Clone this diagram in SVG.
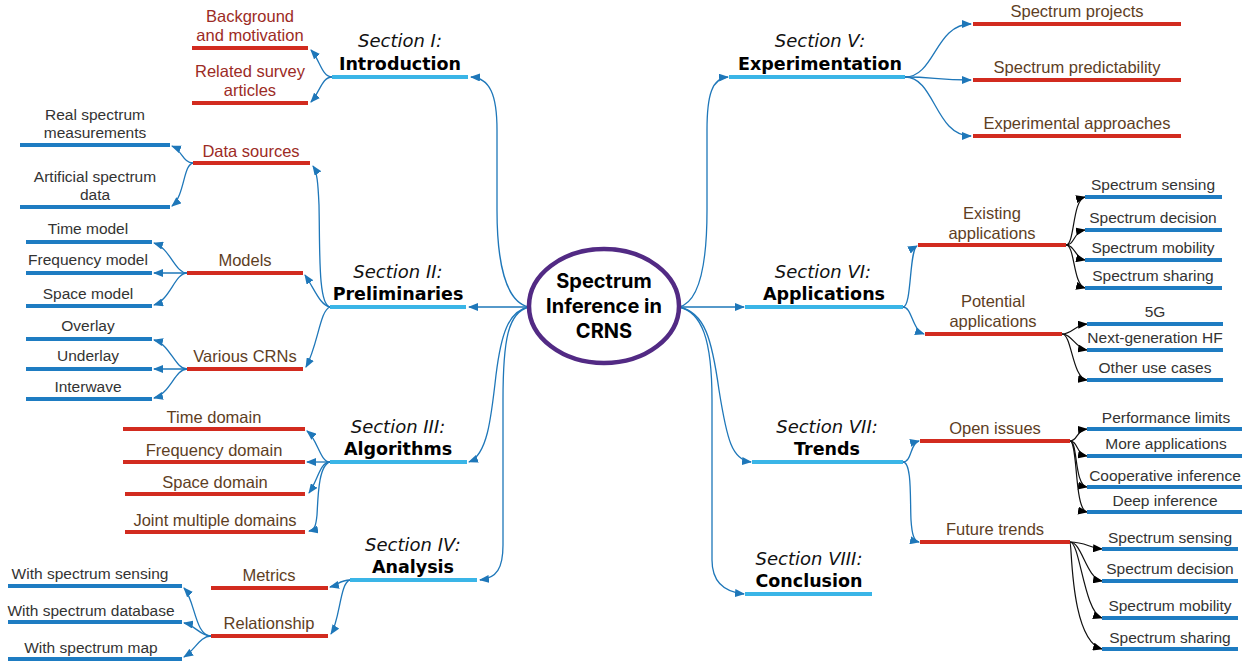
<svg xmlns="http://www.w3.org/2000/svg" width="1255" height="667" viewBox="0 0 1255 667">
  <style>
    .sec { stroke: #3AB5E7; stroke-width: 4; }
    .red { stroke: #D22B1F; stroke-width: 4; }
    .blu { stroke: #1E7CC2; stroke-width: 4; }
    .c { fill: none; stroke: #1E77B9; stroke-width: 1.3; marker-end: url(#ab); }
    .k { fill: none; stroke: #111; stroke-width: 1.2; marker-end: url(#ak); }
    text { text-anchor: middle; }
    .si { font-family: "DejaVu Sans", Verdana, sans-serif; font-style: italic; font-size: 18px; fill: #111; }
    .sb { font-family: "DejaVu Sans", Verdana, sans-serif; font-weight: bold; font-size: 17.5px; fill: #000; }
    .tr { font-family: "Liberation Sans", Arial, sans-serif; font-size: 16.5px; fill: #9C2B25; }
    .tn { font-family: "Liberation Sans", Arial, sans-serif; font-size: 16.5px; fill: #5E3E1F; }
    .tg { font-family: "Liberation Sans", Arial, sans-serif; font-size: 15.5px; fill: #333; }
    .ct { font-family: Inter, "Open Sans", sans-serif; font-weight: bold; font-size: 20px; fill: #000; }
  </style>
  <defs>
    <marker id="ab" markerUnits="userSpaceOnUse" markerWidth="10" markerHeight="8" refX="9" refY="4" orient="auto">
      <path d="M0,0 L10,4 L0,8 z" fill="#1E77B9"/>
    </marker>
    <marker id="ak" markerUnits="userSpaceOnUse" markerWidth="10" markerHeight="8" refX="9" refY="4" orient="auto">
      <path d="M0,0 L10,4 L0,8 z" fill="#000"/>
    </marker>
  </defs>
  <rect width="1255" height="667" fill="#fff"/>

  <g id="connectors">
    <!-- centre to sections -->
    <path class="c" d="M529,307 C505,302 497,260 497,210 L497,130 C497,95 490,78 471,77"/>
    <path class="c" d="M529,307 L469,307"/>
    <path class="c" d="M529,307 C508,311 501,335 496,375 C491,420 487,455 469,462"/>
    <path class="c" d="M529,307 C508,312 503,340 503,400 L503,545 C503,568 497,578 480,580"/>
    <path class="c" d="M679,307 C700,302 707,260 707,210 L707,130 C707,95 712,78 728,77"/>
    <path class="c" d="M679,307 L744,307"/>
    <path class="c" d="M679,307 C705,312 712,340 719,390 C727,440 732,460 751,462"/>
    <path class="c" d="M679,307 C702,312 712,340 712,400 L712,560 C712,582 724,592 744,594"/>

    <!-- Section I -->
    <path class="c" d="M332,77 C322,77 320,60 311,50"/>
    <path class="c" d="M332,77 C322,77 320,92 311,102"/>
    <!-- Section II -->
    <path class="c" d="M330,307 C318,305 320,250 319,205 C318,182 317,172 313,166"/>
    <path class="c" d="M330,307 C320,305 315,290 305,275"/>
    <path class="c" d="M330,307 C320,310 318,345 306,367"/>
    <path class="c" d="M193,163 C183,163 182,150 172,146"/>
    <path class="c" d="M193,163 C183,165 185,195 172,206"/>
    <path class="c" d="M187,273 C175,273 170,248 154,243"/>
    <path class="c" d="M187,273 L154,273"/>
    <path class="c" d="M187,273 C175,273 170,300 154,305"/>
    <path class="c" d="M187,369 C175,369 170,344 154,340"/>
    <path class="c" d="M187,369 L154,369"/>
    <path class="c" d="M187,369 C175,369 170,394 154,398"/>
    <!-- Section III -->
    <path class="c" d="M330,462 C320,462 318,440 307,431"/>
    <path class="c" d="M330,462 L307,462"/>
    <path class="c" d="M330,462 C320,462 318,480 309,493"/>
    <path class="c" d="M330,462 C318,465 318,500 317,515 C316,525 315,530 309,531"/>
    <!-- Section IV -->
    <path class="c" d="M350,580 C340,580 338,585 330,587"/>
    <path class="c" d="M350,580 C340,582 340,620 331,634"/>
    <path class="c" d="M211,636 C195,636 195,600 184,588"/>
    <path class="c" d="M211,636 C200,636 195,625 184,623"/>
    <path class="c" d="M211,636 C200,636 195,650 184,657"/>
    <!-- Section V -->
    <path class="c" d="M905,77 C935,77 935,24 971,24"/>
    <path class="c" d="M905,77 C935,77 935,80 971,80"/>
    <path class="c" d="M905,77 C935,77 935,136 971,136"/>
    <!-- Section VI -->
    <path class="c" d="M903,307 C912,307 909,250 917,246"/>
    <path class="c" d="M903,307 C912,307 912,330 924,334"/>
    <path class="k" d="M1066,245 C1075,245 1072,200 1085,197"/>
    <path class="k" d="M1066,245 C1075,245 1073,232 1085,230"/>
    <path class="k" d="M1066,245 C1075,245 1075,258 1085,260"/>
    <path class="k" d="M1066,245 C1075,245 1073,285 1085,288"/>
    <path class="k" d="M1062,334 C1072,334 1075,325 1087,324"/>
    <path class="k" d="M1062,334 C1072,334 1075,348 1087,350"/>
    <path class="k" d="M1062,334 C1072,334 1072,378 1087,380"/>
    <!-- Section VII -->
    <path class="c" d="M903,462 C912,462 910,443 919,441"/>
    <path class="c" d="M903,462 C912,462 910,500 911,520 C912,535 914,541 919,542"/>
    <path class="k" d="M1070,441 C1078,441 1076,430 1087,429"/>
    <path class="k" d="M1070,441 C1078,441 1076,454 1087,456"/>
    <path class="k" d="M1070,441 C1078,441 1074,485 1087,487"/>
    <path class="k" d="M1070,441 C1078,441 1074,510 1087,512"/>
    <path class="k" d="M1070,542 C1085,542 1090,548 1102,549"/>
    <path class="k" d="M1070,542 C1082,542 1086,578 1102,581"/>
    <path class="k" d="M1070,542 C1080,542 1084,612 1102,618"/>
    <path class="k" d="M1070,542 C1072,542 1070,640 1102,649"/>
  </g>

  <g id="center">
    <ellipse cx="604" cy="306" rx="75" ry="57" fill="#fff" stroke="#522A84" stroke-width="4.5"/>
    <text class="ct" x="604" y="288">Spectrum</text>
    <text class="ct" x="604" y="313">Inference in</text>
    <text class="ct" x="604" y="338">CRNS</text>
  </g>

  <!-- Section nodes -->
  <g id="sec1">
    <line class="sec" x1="332" y1="77" x2="468" y2="77"/>
    <text class="si" x="400" y="47">Section I:</text>
    <text class="sb" x="400" y="70">Introduction</text>
  </g>
  <g id="sec2">
    <line class="sec" x1="330" y1="307" x2="466" y2="307"/>
    <text class="si" x="398" y="278">Section II:</text>
    <text class="sb" x="398" y="300">Preliminaries</text>
  </g>
  <g id="sec3">
    <line class="sec" x1="330" y1="462" x2="467" y2="462"/>
    <text class="si" x="398" y="433">Section III:</text>
    <text class="sb" x="398" y="455">Algorithms</text>
  </g>
  <g id="sec4">
    <line class="sec" x1="350" y1="580" x2="477" y2="580"/>
    <text class="si" x="413" y="551">Section IV:</text>
    <text class="sb" x="413" y="573">Analysis</text>
  </g>
  <g id="sec5">
    <line class="sec" x1="729" y1="77" x2="905" y2="77"/>
    <text class="si" x="820" y="47">Section V:</text>
    <text class="sb" x="820" y="70">Experimentation</text>
  </g>
  <g id="sec6">
    <line class="sec" x1="745" y1="307" x2="903" y2="307"/>
    <text class="si" x="823" y="278">Section VI:</text>
    <text class="sb" x="824" y="300">Applications</text>
  </g>
  <g id="sec7">
    <line class="sec" x1="752" y1="462" x2="903" y2="462"/>
    <text class="si" x="827" y="433">Section VII:</text>
    <text class="sb" x="827" y="455">Trends</text>
  </g>
  <g id="sec8">
    <line class="sec" x1="745" y1="594" x2="872" y2="594"/>
    <text class="si" x="809" y="565">Section VIII:</text>
    <text class="sb" x="809" y="587">Conclusion</text>
  </g>

  <!-- Section I topics -->
  <g id="background">
    <line class="red" x1="192" y1="48" x2="308" y2="48"/>
    <text class="tr" x="250" y="22">Background</text>
    <text class="tr" x="250" y="41">and motivation</text>
  </g>
  <g id="survey">
    <line class="red" x1="192" y1="103" x2="308" y2="103"/>
    <text class="tr" x="250" y="77">Related survey</text>
    <text class="tr" x="250" y="96">articles</text>
  </g>

  <!-- Section II topics -->
  <g id="datasources">
    <line class="red" x1="193" y1="163" x2="310" y2="163"/>
    <text class="tr" x="251" y="157">Data sources</text>
  </g>
  <g id="models">
    <line class="red" x1="187" y1="273" x2="303" y2="273"/>
    <text class="tn" x="245" y="266">Models</text>
  </g>
  <g id="crns">
    <line class="red" x1="187" y1="369" x2="303" y2="369"/>
    <text class="tn" x="245" y="362">Various CRNs</text>
  </g>
  <g id="realmeas">
    <line class="blu" x1="20" y1="145" x2="170" y2="145"/>
    <text class="tg" x="95" y="120">Real spectrum</text>
    <text class="tg" x="95" y="138">measurements</text>
  </g>
  <g id="artificial">
    <line class="blu" x1="20" y1="207" x2="170" y2="207"/>
    <text class="tg" x="95" y="182">Artificial spectrum</text>
    <text class="tg" x="95" y="200">data</text>
  </g>
  <g id="timemodel">
    <line class="blu" x1="26" y1="242" x2="152" y2="242"/>
    <text class="tg" x="88" y="234">Time model</text>
  </g>
  <g id="freqmodel">
    <line class="blu" x1="26" y1="273" x2="152" y2="273"/>
    <text class="tg" x="88" y="265">Frequency model</text>
  </g>
  <g id="spacemodel">
    <line class="blu" x1="26" y1="306" x2="152" y2="306"/>
    <text class="tg" x="88" y="299">Space model</text>
  </g>
  <g id="overlay">
    <line class="blu" x1="26" y1="339" x2="152" y2="339"/>
    <text class="tg" x="88" y="331">Overlay</text>
  </g>
  <g id="underlay">
    <line class="blu" x1="26" y1="369" x2="152" y2="369"/>
    <text class="tg" x="88" y="361">Underlay</text>
  </g>
  <g id="interwave">
    <line class="blu" x1="26" y1="399" x2="152" y2="399"/>
    <text class="tg" x="88" y="392">Interwave</text>
  </g>

  <!-- Section III topics -->
  <g id="timedomain">
    <line class="red" x1="123" y1="429" x2="305" y2="429"/>
    <text class="tn" x="214" y="423">Time domain</text>
  </g>
  <g id="freqdomain">
    <line class="red" x1="123" y1="462" x2="305" y2="462"/>
    <text class="tn" x="214" y="456">Frequency domain</text>
  </g>
  <g id="spacedomain">
    <line class="red" x1="125" y1="494" x2="305" y2="494"/>
    <text class="tn" x="215" y="488">Space domain</text>
  </g>
  <g id="jointdomain">
    <line class="red" x1="125" y1="532" x2="305" y2="532"/>
    <text class="tn" x="215" y="526">Joint multiple domains</text>
  </g>

  <!-- Section IV topics -->
  <g id="metrics">
    <line class="red" x1="211" y1="588" x2="328" y2="588"/>
    <text class="tn" x="269" y="581">Metrics</text>
  </g>
  <g id="relationship">
    <line class="red" x1="211" y1="636" x2="328" y2="636"/>
    <text class="tn" x="269" y="629">Relationship</text>
  </g>
  <g id="withsensing">
    <line class="blu" x1="8" y1="586" x2="182" y2="586"/>
    <text class="tg" x="90" y="579">With spectrum sensing</text>
  </g>
  <g id="withdatabase">
    <line class="blu" x1="8" y1="622" x2="182" y2="622"/>
    <text class="tg" x="91" y="616">With spectrum database</text>
  </g>
  <g id="withmap">
    <line class="blu" x1="8" y1="659" x2="182" y2="659"/>
    <text class="tg" x="91" y="653">With spectrum map</text>
  </g>

  <!-- Section V topics -->
  <g id="projects">
    <line class="red" x1="973" y1="24" x2="1181" y2="24"/>
    <text class="tn" x="1077" y="17">Spectrum projects</text>
  </g>
  <g id="predictability">
    <line class="red" x1="973" y1="80" x2="1181" y2="80"/>
    <text class="tn" x="1077" y="73">Spectrum predictability</text>
  </g>
  <g id="approaches">
    <line class="red" x1="973" y1="136" x2="1181" y2="136"/>
    <text class="tn" x="1077" y="129">Experimental approaches</text>
  </g>

  <!-- Section VI topics -->
  <g id="existing">
    <line class="red" x1="918" y1="245" x2="1066" y2="245"/>
    <text class="tn" x="992" y="219">Existing</text>
    <text class="tn" x="992" y="239">applications</text>
  </g>
  <g id="potential">
    <line class="red" x1="925" y1="334" x2="1062" y2="334"/>
    <text class="tn" x="993" y="307">Potential</text>
    <text class="tn" x="993" y="327">applications</text>
  </g>
  <g id="app-sensing">
    <line class="blu" x1="1085" y1="197" x2="1222" y2="197"/>
    <text class="tg" x="1153" y="190">Spectrum sensing</text>
  </g>
  <g id="app-decision">
    <line class="blu" x1="1085" y1="230" x2="1222" y2="230"/>
    <text class="tg" x="1153" y="223">Spectrum decision</text>
  </g>
  <g id="app-mobility">
    <line class="blu" x1="1085" y1="260" x2="1222" y2="260"/>
    <text class="tg" x="1153" y="253">Spectrum mobility</text>
  </g>
  <g id="app-sharing">
    <line class="blu" x1="1085" y1="288" x2="1222" y2="288"/>
    <text class="tg" x="1153" y="281">Spectrum sharing</text>
  </g>
  <g id="fiveg">
    <line class="blu" x1="1087" y1="324" x2="1223" y2="324"/>
    <text class="tg" x="1155" y="317">5G</text>
  </g>
  <g id="nexthf">
    <line class="blu" x1="1087" y1="350" x2="1223" y2="350"/>
    <text class="tg" x="1155" y="343">Next-generation HF</text>
  </g>
  <g id="otheruse">
    <line class="blu" x1="1087" y1="380" x2="1223" y2="380"/>
    <text class="tg" x="1155" y="373">Other use cases</text>
  </g>

  <!-- Section VII topics -->
  <g id="openissues">
    <line class="red" x1="920" y1="441" x2="1070" y2="441"/>
    <text class="tn" x="995" y="434">Open issues</text>
  </g>
  <g id="futuretrends">
    <line class="red" x1="920" y1="542" x2="1070" y2="542"/>
    <text class="tn" x="995" y="535">Future trends</text>
  </g>
  <g id="perflimits">
    <line class="blu" x1="1087" y1="429" x2="1242" y2="429"/>
    <text class="tg" x="1166" y="423">Performance limits</text>
  </g>
  <g id="moreapps">
    <line class="blu" x1="1087" y1="456" x2="1242" y2="456"/>
    <text class="tg" x="1166" y="449">More applications</text>
  </g>
  <g id="coopinf">
    <line class="blu" x1="1087" y1="487" x2="1242" y2="487"/>
    <text class="tg" x="1165" y="481">Cooperative inference</text>
  </g>
  <g id="deepinf">
    <line class="blu" x1="1087" y1="512" x2="1242" y2="512"/>
    <text class="tg" x="1165" y="506">Deep inference</text>
  </g>
  <g id="ft-sensing">
    <line class="blu" x1="1102" y1="549" x2="1238" y2="549"/>
    <text class="tg" x="1170" y="543">Spectrum sensing</text>
  </g>
  <g id="ft-decision">
    <line class="blu" x1="1102" y1="581" x2="1238" y2="581"/>
    <text class="tg" x="1170" y="574">Spectrum decision</text>
  </g>
  <g id="ft-mobility">
    <line class="blu" x1="1102" y1="618" x2="1238" y2="618"/>
    <text class="tg" x="1170" y="611">Spectrum mobility</text>
  </g>
  <g id="ft-sharing">
    <line class="blu" x1="1102" y1="649" x2="1238" y2="649"/>
    <text class="tg" x="1170" y="643">Spectrum sharing</text>
  </g>
</svg>
